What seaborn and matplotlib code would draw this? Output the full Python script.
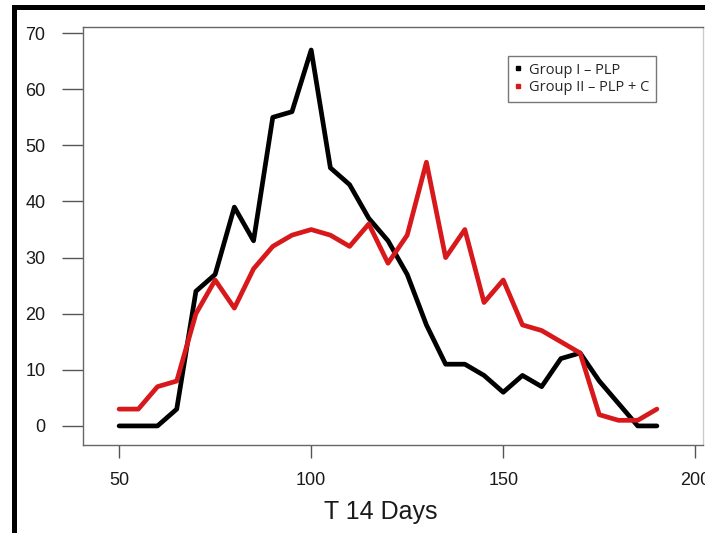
import matplotlib
matplotlib.use("Agg")
import matplotlib.pyplot as plt
import seaborn as sns
import pandas as pd
from matplotlib.lines import Line2D
from matplotlib.patches import Rectangle

days = [50, 55, 60, 65, 70, 75, 80, 85, 90, 95, 100, 105, 110, 115, 120,
        125, 130, 135, 140, 145, 150, 155, 160, 165, 170, 175, 180, 185, 190]
group1 = [0, 0, 0, 3, 24, 27, 39, 33, 55, 56, 67, 46, 43, 37, 33,
          27, 18, 11, 11, 9, 6, 9, 7, 12, 13, 8, 4, 0, 0]
group2 = [3, 3, 7, 8, 20, 26, 21, 28, 32, 34, 35, 34, 32, 36, 29,
          34, 47, 30, 35, 22, 26, 18, 17, 15, 13, 2, 1, 1, 3]
labels = ["Group I \u2013 PLP", "Group II \u2013 PLP + C"]
colors = ["#000000", "#d7191c"]
xticks = [50, 100, 150, 200]
yticks = [0, 10, 20, 30, 40, 50, 60, 70]

df = pd.concat([
    pd.DataFrame({"day": days, "value": group1, "group": labels[0]}),
    pd.DataFrame({"day": days, "value": group2, "group": labels[1]}),
])

sns.set_theme(style="white")
plt.rcParams["font.family"] = ["Liberation Sans", "DejaVu Sans"]

fig = plt.figure(figsize=(7.05, 5.33), dpi=100)
ax = fig.add_axes([83 / 705, 1 - 445 / 533, 620 / 705, (445 - 27) / 533])

sns.lineplot(data=df, x="day", y="value", hue="group", palette=colors,
             linewidth=3.4, ax=ax, legend=False)

ax.set_xlim(40.6, 202)
ax.set_ylim(-3.4, 71.1)
ax.set_xticks(xticks)
ax.set_yticks(yticks)
ax.set_xticklabels([str(t) for t in xticks])
ax.set_yticklabels([str(t) for t in yticks])

for s in ax.spines.values():
    s.set_color("#666666")
    s.set_linewidth(1.0)
ax.spines["right"].set_color("#cccccc")

ax.tick_params(axis="y", direction="out", length=15, width=1.0,
               color="#555555", pad=12, labelsize=13, labelcolor="#1a1a1a",
               left=True)
ax.tick_params(axis="x", direction="out", length=9.5, width=1.0,
               color="#555555", pad=10, labelsize=13, labelcolor="#1a1a1a",
               bottom=True)

ax.set_ylabel("")
ax.set_xlabel("T 14 Days", fontsize=18, color="#1a1a1a")
ax.xaxis.set_label_coords((381 - 83) / 620, -(500 - 445) / 418)

handles = [Line2D([0], [0], marker="s", linestyle="none", color=c,
                  markersize=3) for c in colors]
leg = ax.legend(handles, labels, loc="upper left",
                bbox_to_anchor=((508 - 83) / 620, 1 - (56 - 27) / 418),
                borderaxespad=0,
                frameon=True, fancybox=False, edgecolor="#555555",
                handlelength=0.5, handletextpad=0.5, borderpad=0.45,
                labelspacing=0.2,
                prop={"family": ["Open Sans", "DejaVu Sans"], "size": 10.5})
leg.get_frame().set_linewidth(1.0)

fig.patches.append(Rectangle((13.5 / 705, -0.2), 1.2, 1.2 - 6.5 / 533,
                             transform=fig.transFigure, fill=False,
                             edgecolor="black", linewidth=3.6, zorder=10))

fig.savefig("out.png", dpi=100)
